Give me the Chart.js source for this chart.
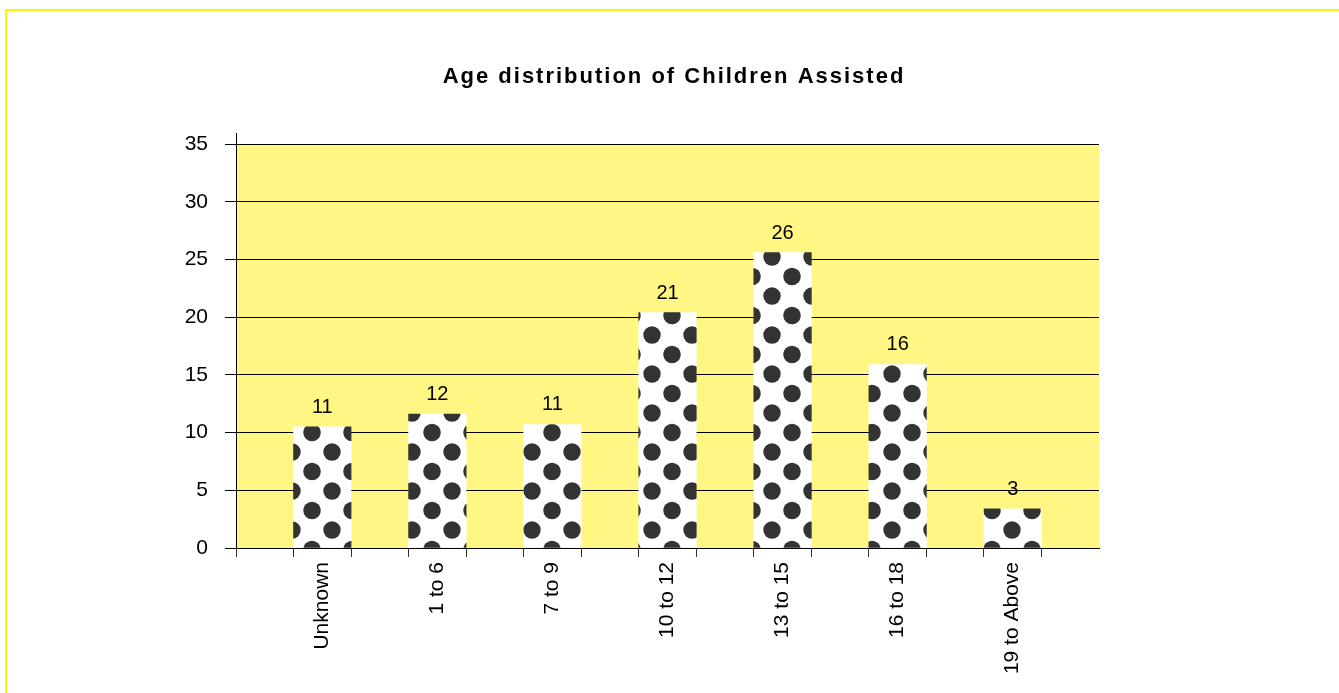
<!DOCTYPE html>
<html>
<head>
<meta charset="utf-8">
<title>Age distribution of Children Assisted</title>
<script src="https://cdn.jsdelivr.net/npm/chart.js@4.4.1/dist/chart.umd.min.js"></script>
<style>
    html, body { margin: 0; padding: 0; background: #fff; overflow: hidden; }
    #frame { position: absolute; left: 5px; top: 9px; width: 1400px; height: 800px; border: 2px solid #fff200; }
    #wrap { position: absolute; left: 0; top: 0; width: 1339px; height: 693px; }
</style>
</head>
<body>
<div id="frame"></div>
<div id="wrap"><canvas id="ageChart"></canvas></div>
<script>
    // chart data
    const chartTitle = 'Age distribution of Children Assisted';
    const categories = ['Unknown', '1 to 6', '7 to 9', '10 to 12', '13 to 15', '16 to 18', '19 to Above'];
    const barHeights = [10.5, 11.6, 10.7, 20.4, 25.6, 15.9, 3.4];
    const valueLabels = ['11', '12', '11', '21', '26', '16', '3'];
    const yTicks = [0, 5, 10, 15, 20, 25, 30, 35];

    // tick marks sit on bar edges and half way between bars
    const xTickMarks = [];
    for (let i = 0; i <= categories.length; i++) {
        xTickMarks.push(i - 0.75);
        if (i < categories.length) xTickMarks.push(i - 0.25);
    }

    const fontFamily = '"Liberation Sans", Arial, Helvetica, sans-serif';

    // polka dot fill for the bars
    function dotPattern() {
        const w = 40, h = 39, r = 8.7;
        const c = document.createElement('canvas');
        c.width = w;
        c.height = h;
        const g = c.getContext('2d');
        g.fillStyle = '#ffffff';
        g.fillRect(0, 0, w, h);
        g.fillStyle = '#333333';
        const dots = [[12, 23], [32, 3.5]];
        dots.forEach(([cx, cy]) => {
            for (let dx = -1; dx <= 1; dx++) {
                for (let dy = -1; dy <= 1; dy++) {
                    g.beginPath();
                    g.arc(cx + dx * w, cy + dy * h, r, 0, Math.PI * 2);
                    g.fill();
                }
            }
        });
        return g.createPattern(c, 'repeat');
    }

    const plotBackground = {
        id: 'plotBackground',
        beforeDraw(chart) {
            const { ctx, chartArea: a } = chart;
            ctx.save();
            ctx.fillStyle = '#fff683';
            ctx.fillRect(a.left, a.top, a.right - a.left, a.bottom - a.top);
            // axis line pokes a bit above the plot
            ctx.strokeStyle = '#000';
            ctx.lineWidth = 1;
            ctx.beginPath();
            ctx.moveTo(a.left + 0.5, a.top - 11);
            ctx.lineTo(a.left + 0.5, a.top);
            ctx.stroke();
            ctx.restore();
        }
    };

    // title is spaced out a little, so it is drawn here
    const spacedTitle = {
        id: 'spacedTitle',
        afterDraw(chart) {
            const ctx = chart.ctx;
            ctx.save();
            ctx.font = 'bold 22px ' + fontFamily;
            ctx.letterSpacing = '2px';
            ctx.fillStyle = '#000';
            ctx.textAlign = 'center';
            ctx.textBaseline = 'middle';
            ctx.fillText(chartTitle, 674, 77);
            ctx.restore();
        }
    };

    const valueLabelPlugin = {
        id: 'valueLabels',
        afterDatasetsDraw(chart) {
            const ctx = chart.ctx;
            const meta = chart.getDatasetMeta(0);
            ctx.save();
            ctx.font = '20px ' + fontFamily;
            ctx.fillStyle = '#000';
            ctx.textAlign = 'center';
            ctx.textBaseline = 'alphabetic';
            meta.data.forEach((bar, i) => {
                ctx.fillText(valueLabels[i], bar.x, bar.y - 14);
            });
            ctx.restore();
        }
    };

    const ctx = document.getElementById('ageChart').getContext('2d');

    new Chart(ctx, {
        type: 'bar',
        data: {
            datasets: [{
                label: 'Children',
                data: barHeights.map((v, i) => ({ x: i, y: v })),
                backgroundColor: dotPattern(),
                borderWidth: 0,
                barPercentage: 1,
                categoryPercentage: 1
            }]
        },
        options: {
            responsive: true,
            maintainAspectRatio: false,
            animation: false,
            layout: {
                padding: { left: 0, right: 240, top: 144, bottom: 0 }
            },
            scales: {
                x: {
                    type: 'linear',
                    offset: false,
                    min: -0.75,
                    max: categories.length - 0.25,
                    afterBuildTicks: axis => { axis.ticks = xTickMarks.map(v => ({ value: v })); },
                    afterFit: axis => { axis.height = 145; },
                    grid: {
                        offset: false,
                        drawOnChartArea: false,
                        drawTicks: true,
                        tickLength: 9,
                        color: '#333',
                        lineWidth: 1
                    },
                    border: { display: true, color: '#000', width: 1 },
                    ticks: {
                        autoSkip: false,
                        minRotation: 90,
                        maxRotation: 90,
                        padding: 5,
                        labelOffset: 28.75,
                        color: '#000',
                        font: { family: fontFamily, size: 21 },
                        callback: function(value) {
                            const i = value + 0.25;
                            return Number.isInteger(i) && categories[i] ? categories[i] : '';
                        }
                    }
                },
                y: {
                    min: 0,
                    max: 35,
                    afterBuildTicks: axis => { axis.ticks = yTicks.map(v => ({ value: v })); },
                    afterFit: axis => { axis.width = 236; },
                    grid: {
                        color: '#000',
                        lineWidth: 1,
                        drawTicks: true,
                        tickLength: 11
                    },
                    border: { display: true, color: '#000', width: 1 },
                    ticks: {
                        padding: 17,
                        color: '#000',
                        font: { family: fontFamily, size: 21 }
                    }
                }
            },
            plugins: {
                legend: { display: false },
                tooltip: { enabled: false },
                title: { display: false }
            }
        },
        plugins: [plotBackground, valueLabelPlugin, spacedTitle]
    });
</script>
</body>
</html>
